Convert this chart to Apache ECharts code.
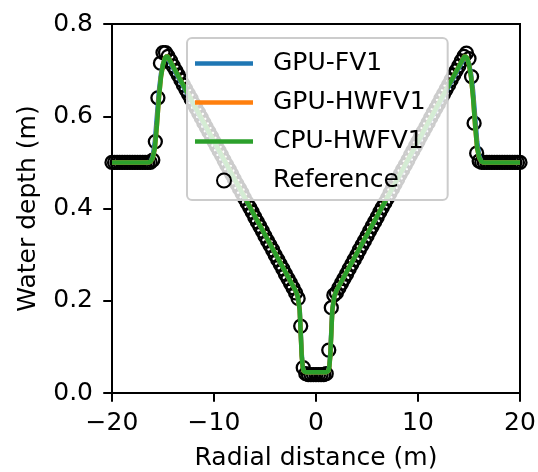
<!DOCTYPE html>
<html>
<head>
<meta charset="utf-8">
<script src="https://cdn.jsdelivr.net/npm/echarts@6/dist/echarts.min.js"></script>
<style>
	html, body { margin: 0; padding: 0; background: #fff; }
	#chart { width: 538px; height: 472px; }
</style>
</head>
<body>
<div id="chart"></div>
<script>
	// simulated profiles (x in m, depth in m)
	const modelX = [-20, -16.4, -16.2, -16.0, -15.8, -15.6, -15.4, -15.2, -15.0, -14.8, -14.6, -14.4,
		-2.0, -1.8, -1.6, -1.5, -1.4, -1.3, -1.2, -1.0, 1.0, 1.2, 1.3, 1.4, 1.5, 1.6, 1.8, 2.0,
		14.4, 14.6, 14.8, 15.0, 15.2, 15.4, 15.6, 15.8, 16.0, 16.2, 16.4, 20]
	const gpuFv1 = [0.5, 0.5, 0.503, 0.515, 0.545, 0.6, 0.655, 0.692, 0.714, 0.725, 0.727, 0.72,
		0.222, 0.21, 0.182, 0.135, 0.085, 0.058, 0.048, 0.045, 0.045, 0.048, 0.058, 0.085, 0.135, 0.182, 0.21, 0.222,
		0.72, 0.727, 0.725, 0.714, 0.692, 0.655, 0.6, 0.545, 0.515, 0.503, 0.5, 0.5]
	const gpuHwfv1 = [0.5, 0.5, 0.502, 0.51, 0.53, 0.58, 0.64, 0.685, 0.712, 0.727, 0.731, 0.724,
		0.222, 0.21, 0.18, 0.13, 0.08, 0.055, 0.047, 0.045, 0.045, 0.047, 0.055, 0.08, 0.13, 0.18, 0.21, 0.222,
		0.724, 0.731, 0.727, 0.712, 0.685, 0.64, 0.58, 0.53, 0.51, 0.502, 0.5, 0.5]
	const cpuHwfv1 = [0.5, 0.5, 0.502, 0.51, 0.53, 0.58, 0.64, 0.685, 0.712, 0.727, 0.731, 0.724,
		0.222, 0.21, 0.18, 0.13, 0.08, 0.055, 0.047, 0.045, 0.045, 0.047, 0.055, 0.08, 0.13, 0.18, 0.21, 0.222,
		0.724, 0.731, 0.727, 0.712, 0.685, 0.64, 0.58, 0.53, 0.51, 0.502, 0.5, 0.5]

	// reference solution, sampled every 0.25 m
	const refX = [-20, -19.75, -19.5, -19.25, -19, -18.75, -18.5, -18.25, -18, -17.75, -17.5, -17.25,
		-17, -16.75, -16.5, -16.25, -16, -15.75, -15.5, -15.25, -15, -14.75, -14.5, -14.25,
		-14, -13.75, -13.5, -13.25, -13, -12.75, -12.5, -12.25, -12, -11.75, -11.5, -11.25,
		-11, -10.75, -10.5, -10.25, -10, -9.75, -9.5, -9.25, -9, -8.75, -8.5, -8.25,
		-8, -7.75, -7.5, -7.25, -7, -6.75, -6.5, -6.25, -6, -5.75, -5.5, -5.25,
		-5, -4.75, -4.5, -4.25, -4, -3.75, -3.5, -3.25, -3, -2.75, -2.5, -2.25,
		-2, -1.75, -1.5, -1.25, -1, -0.75, -0.5, -0.25, 0, 0.25, 0.5, 0.75,
		1, 1.25, 1.5, 1.75, 2, 2.25, 2.5, 2.75, 3, 3.25, 3.5, 3.75,
		4, 4.25, 4.5, 4.75, 5, 5.25, 5.5, 5.75, 6, 6.25, 6.5, 6.75,
		7, 7.25, 7.5, 7.75, 8, 8.25, 8.5, 8.75, 9, 9.25, 9.5, 9.75,
		10, 10.25, 10.5, 10.75, 11, 11.25, 11.5, 11.75, 12, 12.25, 12.5, 12.75,
		13, 13.25, 13.5, 13.75, 14, 14.25, 14.5, 14.75, 15, 15.25, 15.5, 15.75,
		16, 16.25, 16.5, 16.75, 17, 17.25, 17.5, 17.75, 18, 18.25, 18.5, 18.75,
		19, 19.25, 19.5, 19.75, 20]
	const refY = [0.5, 0.5, 0.5, 0.5, 0.5, 0.5, 0.5, 0.5, 0.5, 0.5, 0.5, 0.5,
		0.5, 0.5, 0.5, 0.5, 0.505, 0.545, 0.64, 0.715, 0.738, 0.738, 0.73, 0.72,
		0.709, 0.699, 0.689, 0.679, 0.668, 0.658, 0.648, 0.638, 0.627, 0.617, 0.607, 0.597,
		0.586, 0.576, 0.566, 0.556, 0.545, 0.535, 0.525, 0.515, 0.504, 0.494, 0.484, 0.474,
		0.463, 0.453, 0.443, 0.433, 0.422, 0.412, 0.402, 0.392, 0.381, 0.371, 0.361, 0.351,
		0.34, 0.33, 0.32, 0.31, 0.299, 0.289, 0.279, 0.269, 0.258, 0.248, 0.238, 0.228,
		0.217, 0.205, 0.145, 0.055, 0.042, 0.04, 0.04, 0.04, 0.04, 0.04, 0.04, 0.04,
		0.042, 0.093, 0.185, 0.212, 0.217, 0.228, 0.238, 0.248, 0.258, 0.269, 0.279, 0.289,
		0.299, 0.31, 0.32, 0.33, 0.34, 0.351, 0.361, 0.371, 0.381, 0.392, 0.402, 0.412,
		0.422, 0.433, 0.443, 0.453, 0.463, 0.474, 0.484, 0.494, 0.504, 0.515, 0.525, 0.535,
		0.545, 0.556, 0.566, 0.576, 0.586, 0.597, 0.607, 0.617, 0.627, 0.638, 0.648, 0.658,
		0.668, 0.679, 0.689, 0.699, 0.709, 0.72, 0.73, 0.737, 0.725, 0.686, 0.585, 0.52,
		0.503, 0.5, 0.5, 0.5, 0.5, 0.5, 0.5, 0.5, 0.5, 0.5, 0.5, 0.5,
		0.5, 0.5, 0.5, 0.5, 0.5]

	const xTicks = [-20, -10, 0, 10, 20]
	const yTicks = [0.0, 0.2, 0.4, 0.6, 0.8]

	const font = 'DejaVu Sans'
	const lineWidth = 4.5
	const lineIcon = 'path://M0,0L58,0L58,4.5L0,4.5Z'

	const pairs = function(xs, ys) {
		return xs.map((x, i) => [x, ys[i]])
	}

	const lineSeries = function(name, ys, color) {
		return {
			name: name,
			type: 'line',
			data: pairs(modelX, ys),
			symbol: 'none',
			showSymbol: false,
			z: 3,
			lineStyle: { color: color, width: lineWidth },
			itemStyle: { color: color }
		}
	}

	const axisCommon = {
		axisLine: { show: true, onZero: false, lineStyle: { color: '#000', width: 2 } },
		axisTick: { show: true, inside: false, length: 8.75, lineStyle: { color: '#000', width: 2 } },
		splitLine: { show: false },
		nameTextStyle: { color: '#000', fontSize: 25, fontFamily: font }
	}

	const option = {
		animation: false,
		backgroundColor: '#fff',
		grid: {
			left: 112,
			right: 18,
			top: 24,
			bottom: 79,
			outerBoundsMode: 'none',
			containLabel: false,
			show: true,
			borderColor: '#000',
			borderWidth: 2,
			backgroundColor: 'transparent'
		},
		legend: {
			data: [
				{ name: 'GPU-FV1', icon: lineIcon, itemStyle: { color: '#1f77b4' } },
				{ name: 'GPU-HWFV1', icon: lineIcon, itemStyle: { color: '#ff7f0e' } },
				{ name: 'CPU-HWFV1', icon: lineIcon, itemStyle: { color: '#2ca02c' } },
				{ name: 'Reference' }
			],
			orient: 'vertical',
			left: 187,
			top: 38,
			itemWidth: 58,
			itemHeight: 14,
			itemGap: 14,
			padding: [13, 22, 7, 8],
			backgroundColor: 'rgba(255,255,255,0.8)',
			borderColor: '#cccccc',
			borderWidth: 2,
			borderRadius: 5,
			textStyle: { color: '#000', fontSize: 25, fontFamily: font, padding: [0, 0, 0, 15] }
		},
		xAxis: Object.assign({}, axisCommon, {
			type: 'value',
			min: xTicks[0],
			max: xTicks[xTicks.length - 1],
			interval: 10,
			name: 'Radial distance (m)',
			nameLocation: 'middle',
			nameGap: 53,
			axisLabel: {
				color: '#000',
				fontSize: 25,
				fontFamily: font,
				margin: 18,
				formatter: function(v) {
					return v < 0 ? '\u2212' + Math.abs(v) : String(v)
				}
			}
		}),
		yAxis: Object.assign({}, axisCommon, {
			type: 'value',
			min: yTicks[0],
			max: yTicks[yTicks.length - 1],
			interval: 0.2,
			name: 'Water depth (m)',
			nameLocation: 'middle',
			nameGap: 71,
			axisLabel: {
				color: '#000',
				fontSize: 25,
				fontFamily: font,
				margin: 19,
				formatter: function(v) {
					return v.toFixed(1)
				}
			}
		}),
		series: [
			lineSeries('GPU-FV1', gpuFv1, '#1f77b4'),
			lineSeries('GPU-HWFV1', gpuHwfv1, '#ff7f0e'),
			lineSeries('CPU-HWFV1', cpuHwfv1, '#2ca02c'),
			{
				name: 'Reference',
				type: 'scatter',
				data: pairs(refX, refY),
				symbol: 'circle',
				symbolSize: 13,
				z: 2,
				itemStyle: { color: 'rgba(255,255,255,0)', borderColor: '#000', borderWidth: 2.3, opacity: 1 }
			}
		]
	}

	let myChart = echarts.init(document.getElementById('chart'))
	myChart.setOption(option)
</script>
</body>
</html>
